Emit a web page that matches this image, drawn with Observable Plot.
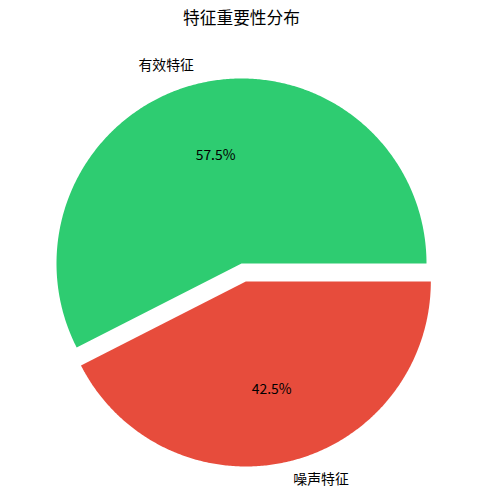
<!DOCTYPE html>
<html>
<head>
<meta charset="utf-8">
<script src="https://cdn.jsdelivr.net/npm/d3@7"></script>
<script src="https://cdn.jsdelivr.net/npm/@observablehq/plot@0.6"></script>
<style>
  html, body { margin: 0; padding: 0; background: #fff; }
  #chart svg { display: block; }
</style>
</head>
<body>
<div id="chart"></div>
<script>
const title = "特征重要性分布";
const labels = ["有效特征", "噪声特征"];
const values = [57.5, 42.5];
const colors = ["#2ecc71", "#e74c3c"];
const explode = [0, 0.1];

const total = d3.sum(values);
const slices = [];
let start = 0;
values.forEach((v, i) => {
  const a0 = start;
  const a1 = start + (v / total) * 2 * Math.PI;
  start = a1;
  const mid = (a0 + a1) / 2;
  const ox = explode[i] * Math.cos(mid);
  const oy = explode[i] * Math.sin(mid);
  const pts = [{x: ox, y: oy, k: i}];
  const n = Math.max(2, Math.ceil((a1 - a0) / (Math.PI / 360)));
  for (let j = 0; j <= n; j++) {
    const a = a0 + (a1 - a0) * j / n;
    pts.push({x: ox + Math.cos(a), y: oy + Math.sin(a), k: i});
  }
  pts.push({x: ox, y: oy, k: i});
  slices.push({label: labels[i], value: v, color: colors[i], mid, ox, oy, pts});
});

const polyData = slices.flatMap(s => s.pts.map(p => ({...p, color: s.color})));
const labelData = slices.map(s => ({
  x: s.ox + 1.1 * Math.cos(s.mid),
  y: s.oy + 1.1 * Math.sin(s.mid),
  text: s.label,
  anchor: Math.cos(s.mid) < 0 ? "end" : "start"
}));
const pctData = slices.map(s => ({
  x: s.ox + 0.6 * Math.cos(s.mid),
  y: s.oy + 0.6 * Math.sin(s.mid),
  text: s.value.toFixed(1) + "%"
}));

const W = 482, H = 504, R = 185, CX = 241, CY = 263;
const font = "'Noto Sans CJK SC', 'DejaVu Sans', sans-serif";

const chart = Plot.plot({
  width: W,
  height: H,
  margin: 0,
  style: {fontFamily: font, background: "#fff"},
  x: {domain: [-CX / R, (W - CX) / R], range: [0, W], axis: null},
  y: {domain: [(CY - H) / R, CY / R], range: [H, 0], axis: null},
  marks: [
    Plot.line(polyData, {x: "x", y: "y", z: "k", fill: "color", stroke: "none", curve: "linear"}),
    Plot.text(labelData.filter(d => d.anchor === "end"), {x: "x", y: "y", text: "text", textAnchor: "end", fontSize: 13.9, fill: "#000"}),
    Plot.text(labelData.filter(d => d.anchor === "start"), {x: "x", y: "y", text: "text", textAnchor: "start", fontSize: 13.9, fill: "#000"}),
    Plot.text(pctData, {x: "x", y: "y", text: "text", fontSize: 13.9, fill: "#000"}),
    Plot.text([title], {frameAnchor: "top", dy: 18, text: d => d, fontSize: 16.7, fill: "#000", lineAnchor: "middle"})
  ]
});
document.getElementById("chart").appendChild(chart);
</script>
</body>
</html>
